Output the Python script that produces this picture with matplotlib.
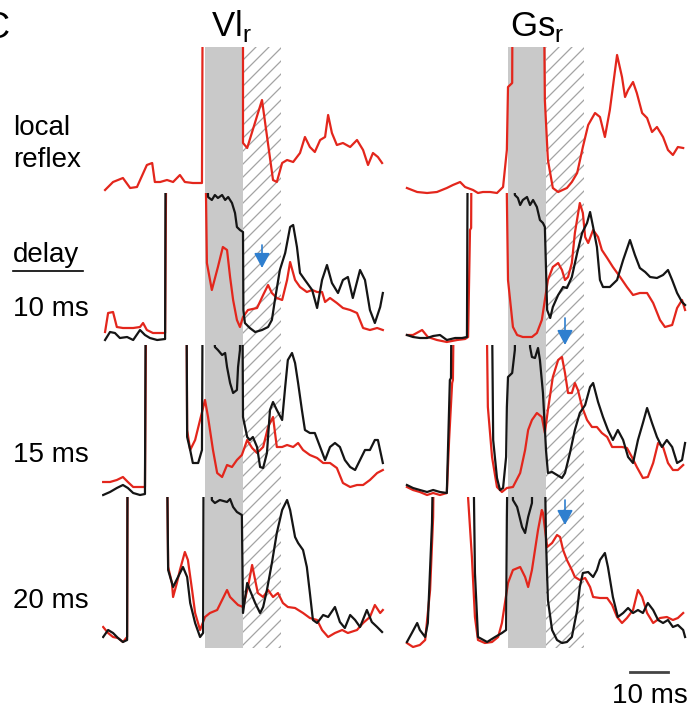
import numpy as np
import matplotlib.pyplot as plt
from matplotlib.patches import Rectangle

plt.rcParams['font.family'] = ['Liberation Sans', 'DejaVu Sans']
plt.rcParams['mathtext.fontset'] = 'custom'
plt.rcParams['mathtext.rm'] = 'Liberation Sans'

SAT = 300  # stimulus artefact, always off scale

# (time from stimulus onset [ms], amplitude above baseline [a.u.])
vl_local = [(-26.3, -5), (-24.2, 3), (-21.6, 7), (-19.7, -3), (-17.9, -2), (-15.3, 20), (-13.9, 22),
            (-13.2, 3), (-11.8, 3), (-10.0, 5), (-8.4, 3), (-6.6, 10), (-5.3, 3), (-3.2, 2), (-0.8, 2),
            (-0.5, SAT), (10.0, SAT), (10.0, 42), (11.1, 37), (15.0, 85), (17.9, 5), (18.9, 3),
            (20.3, 22), (21.6, 25), (23.2, 23), (25.0, 32), (26.3, 48), (27.6, 38), (28.9, 33),
            (30.3, 45), (31.6, 48), (32.4, 70), (33.4, 52), (34.7, 40), (36.3, 42), (38.2, 38),
            (40.0, 45), (41.6, 35), (42.9, 20), (44.2, 32), (45.5, 28), (46.6, 22)]
gs_local = [(-26.6, -3), (-23.9, -7), (-21.3, -8), (-18.7, -7), (-16.1, -3), (-14.5, 0), (-12.6, 3),
            (-11.3, -2), (-9.2, -5), (-7.9, -8), (-6.6, -7), (-4.7, -7), (-2.9, -8), (-1.3, -2),
            (-0.3, 35), (0.0, 98), (1.1, 102), (1.3, SAT), (9.2, SAT), (9.7, 85), (10.5, 25),
            (11.8, -3), (13.2, -7), (15.5, -3), (16.8, 3), (18.2, 12), (19.7, 38), (21.1, 60),
            (22.9, 72), (24.2, 68), (25.5, 48), (26.8, 75), (28.7, 130), (30.0, 108), (30.8, 88),
            (31.6, 95), (32.9, 103), (33.9, 92), (35.3, 72), (36.6, 67), (37.9, 53), (39.2, 58),
            (40.8, 48), (42.1, 35), (43.4, 30), (44.7, 38), (46.1, 37)]

# delay 10 ms
vl_10_red = [(-26.3, 3), (-25.5, 22), (-24.2, 23), (-23.2, 8), (-21.6, 7), (-18.9, 7), (-17.1, 8),
             (-16.3, 12), (-15.3, 5), (-13.7, 2), (-10.5, 2), (-10.0, SAT), (-0.3, SAT), (0.5, 72),
             (1.8, 45), (3.4, 68), (4.7, 88), (5.8, 85), (6.6, 58), (7.4, 35), (8.4, 15), (9.2, 8),
             (10.0, 18), (11.3, 25), (13.7, 27), (15.3, 40), (16.6, 50), (17.6, 42), (18.9, 37),
             (20.3, 35), (21.6, 55), (22.4, 73), (23.7, 55), (25.0, 48), (26.8, 43), (28.2, 45),
             (29.5, 43), (30.8, 43), (31.6, 33), (32.9, 37), (34.7, 32), (36.3, 27), (38.2, 25),
             (40.0, 22), (41.6, 7), (43.4, 5), (45.3, 7), (46.8, 5)]
vl_10_blk = [(-26.3, -5), (-25.0, 3), (-23.7, 2), (-22.4, -3), (-20.5, -2), (-18.9, -5), (-17.1, 5),
             (-15.8, 0), (-14.5, -3), (-12.6, -5), (-10.5, -4), (-10.3, SAT), (-0.3, SAT), (0.8, 138),
             (1.8, 135), (2.6, 140), (3.4, 137), (4.5, 140), (5.3, 135), (6.1, 138), (7.1, 132),
             (7.9, 122), (8.4, 108), (9.2, 105), (10.0, 103), (10.1, 25), (10.5, 12), (11.8, 7),
             (13.2, 3), (15.0, 5), (16.6, 8), (17.6, 15), (18.4, 35), (19.7, 65), (21.1, 82),
             (22.4, 108), (23.2, 110), (24.2, 88), (25.0, 62), (26.3, 55), (28.2, 45), (29.5, 27),
             (30.8, 55), (32.1, 70), (33.4, 52), (35.0, 42), (36.3, 55), (37.6, 58), (38.9, 37),
             (40.8, 65), (42.1, 55), (43.4, 25), (44.7, 12), (46.1, 28), (46.8, 42)]
gs_10_red = [(-26.6, 0), (-25.0, 0), (-22.6, 5), (-21.1, -2), (-18.7, -5), (-16.1, -7), (-13.4, -5),
             (-11.3, -4), (-10.5, -2), (-10.0, 105), (-9.7, 107), (-9.5, SAT), (-0.5, SAT), (-0.3, 138),
             (0.0, 55), (1.3, 8), (2.4, 0), (3.9, -2), (6.3, -2), (7.6, 2), (8.9, 15), (9.7, 35),
             (10.5, 55), (11.8, 68), (13.2, 72), (14.2, 65), (15.0, 55), (15.8, 58), (16.8, 72),
             (17.6, 102), (18.9, 132), (19.7, 122), (20.3, 98), (21.1, 92), (22.4, 105), (23.7, 98),
             (24.7, 85), (26.1, 77), (27.6, 68), (29.5, 58), (31.3, 48), (32.9, 40), (34.7, 42),
             (36.6, 42), (38.2, 32), (40.0, 15), (41.3, 8), (43.2, 10), (44.5, 27), (45.8, 35),
             (46.6, 25)]
gs_10_blk = [(-26.6, 0), (-25.0, -2), (-23.2, -3), (-21.3, -3), (-19.7, -1), (-17.9, 0), (-16.1, -5),
             (-13.9, -3), (-12.1, -3), (-10.8, -2), (-10.5, SAT), (1.6, SAT), (1.8, 140), (2.6, 137),
             (3.2, 130), (3.9, 135), (5.0, 138), (5.8, 130), (6.6, 135), (7.6, 128), (8.4, 115),
             (9.2, 112), (9.7, 108), (10.3, 25), (11.1, 17), (11.8, 28), (13.2, 40), (14.5, 48),
             (15.5, 47), (16.8, 58), (18.2, 82), (19.5, 102), (20.8, 112), (21.6, 123), (22.4, 108),
             (23.4, 88), (24.2, 55), (25.0, 48), (26.8, 48), (28.7, 55), (30.3, 75), (32.1, 95),
             (33.4, 80), (34.7, 67), (36.1, 63), (37.4, 58), (39.2, 57), (40.8, 60), (42.1, 65),
             (43.2, 55), (44.5, 42), (45.8, 33), (46.6, 30)]

# delay 15 ms
vl_15_red = [(-26.8, 8), (-25.0, 8), (-23.2, 10), (-21.6, 13), (-20.3, 8), (-18.9, 3), (-17.1, 3),
             (-15.8, 3), (-15.3, SAT), (-5.0, SAT), (-4.7, 60), (-3.9, 40), (-2.6, 50), (-1.3, 70),
             (0.0, 90), (0.8, 73), (2.1, 40), (3.2, 17), (4.5, 13), (5.8, 25), (7.1, 23), (8.4, 30),
             (9.7, 35), (11.1, 50), (12.4, 42), (13.7, 37), (15.3, 43), (16.6, 63), (17.9, 73),
             (18.9, 43), (20.3, 43), (21.6, 45), (23.2, 43), (24.5, 47), (25.8, 40), (27.6, 35),
             (29.5, 32), (31.1, 27), (32.9, 27), (34.7, 22), (36.3, 7), (38.2, 3), (40.0, 5),
             (41.6, 5), (43.4, 10), (45.3, 17), (46.8, 20)]
vl_15_blk = [(-26.8, -5), (-25.0, -2), (-23.2, 2), (-21.6, 5), (-20.3, 2), (-18.9, -3), (-17.1, -5),
             (-15.8, -4), (-15.5, SAT), (-5.0, SAT), (-4.7, 53), (-3.9, 40), (-3.2, 27), (-1.8, 27),
             (-0.8, 40), (-0.5, SAT), (2.4, SAT), (2.6, 143), (3.4, 140), (4.5, 135), (5.3, 137),
             (5.8, 123), (6.6, 107), (7.4, 97), (8.4, 100), (8.7, 123), (9.2, 140), (9.7, SAT),
             (10.0, 73), (11.1, 53), (11.8, 50), (12.6, 53), (13.7, 43), (14.5, 23), (15.3, 22),
             (16.3, 37), (17.1, 80), (17.9, 88), (18.9, 80), (20.3, 70), (21.1, 103), (21.8, 130),
             (22.9, 137), (23.7, 127), (24.5, 107), (25.5, 80), (26.3, 60), (27.6, 57), (28.9, 57),
             (30.3, 43), (31.6, 30), (32.9, 43), (34.2, 47), (35.5, 43), (36.8, 30), (38.2, 23),
             (39.5, 20), (40.8, 30), (42.1, 40), (43.4, 40), (44.7, 50), (45.5, 50), (46.8, 27)]
gs_15_red = [(-26.6, 3), (-25.0, 0), (-23.2, -2), (-21.3, -5), (-19.7, -3), (-17.9, -5), (-16.1, -3),
             (-15.5, 50), (-14.7, 107), (-14.5, 110), (-13.9, SAT), (-5.8, SAT), (-5.5, 143),
             (-5.3, 83), (-4.2, 33), (-2.9, 3), (-1.6, -2), (-0.3, 2), (1.3, 3), (3.2, 17), (4.5, 40),
             (5.3, 60), (6.3, 70), (7.6, 77), (8.9, 73), (9.7, 57), (10.5, 80), (11.8, 113),
             (13.2, 130), (14.2, 133), (15.0, 117), (15.8, 97), (16.8, 97), (17.6, 107), (18.4, 100),
             (19.5, 83), (20.8, 70), (22.1, 63), (23.4, 63), (24.7, 57), (26.1, 53), (27.4, 43),
             (28.7, 43), (30.0, 43), (31.3, 42), (32.6, 33), (33.9, 23), (35.5, 12), (36.8, 13),
             (38.2, 27), (39.5, 47), (40.8, 43), (42.1, 27), (43.4, 20), (44.7, 20), (46.1, 25)]
gs_15_blk = [(-26.6, 5), (-25.0, 2), (-23.2, 0), (-21.3, -2), (-19.7, 0), (-17.9, -2), (-16.1, -3),
             (-15.3, 110), (-15.0, 112), (-14.7, SAT), (-4.5, SAT), (-3.9, 50), (-2.9, 12), (-2.1, 0),
             (-1.3, 2), (-0.5, 33), (-0.3, 83), (0.0, 113), (1.1, 117), (1.8, 140), (2.4, SAT),
             (5.5, SAT), (5.8, 143), (6.3, 133), (7.1, 132), (7.9, 142), (8.4, 130), (9.2, 97),
             (10.0, 40), (10.5, 17), (11.6, 18), (12.9, 15), (14.2, 12), (15.0, 17), (16.3, 37),
             (17.6, 60), (18.9, 77), (20.3, 85), (21.6, 103), (22.4, 107), (23.7, 88), (25.0, 73),
             (26.3, 60), (27.6, 50), (28.9, 60), (30.3, 50), (31.6, 33), (32.9, 27), (34.2, 50),
             (35.5, 67), (36.6, 82), (37.9, 67), (39.2, 53), (40.5, 43), (41.8, 50), (43.2, 43),
             (44.5, 27), (45.8, 30), (46.6, 47)]

# delay 20 ms
vl_20_red = [(-26.8, 11), (-25.5, 5), (-24.2, 1), (-22.9, 0), (-21.6, -4), (-20.5, 1), (-20.3, SAT),
             (-10.3, SAT), (-9.7, 71), (-8.7, 55), (-8.4, 41), (-7.4, 55), (-6.6, 68), (-5.3, 86),
             (-4.5, 78), (-3.4, 48), (-2.6, 25), (-1.3, 8), (0.0, 21), (1.3, 25), (3.2, 28), (4.5, 38),
             (5.8, 48), (6.6, 41), (7.9, 36), (8.7, 33), (10.0, 31), (11.3, 51), (12.4, 73),
             (13.2, 58), (13.9, 45), (15.3, 41), (16.6, 48), (17.9, 41), (19.2, 45), (20.5, 35),
             (21.8, 31), (23.7, 30), (25.8, 25), (27.6, 20), (29.5, 18), (30.8, 8), (32.4, 1),
             (34.2, 5), (36.1, 8), (37.6, 5), (40.0, 8), (41.6, 15), (43.4, 21), (44.7, 33),
             (46.1, 25), (46.8, 28)]
vl_20_blk = [(-26.8, 1), (-25.5, 8), (-24.2, 5), (-22.9, 0), (-21.6, -4), (-20.5, -2), (-20.3, SAT),
             (-10.3, SAT), (-9.7, 68), (-8.4, 51), (-7.1, 61), (-5.8, 71), (-4.7, 61), (-3.9, 35),
             (-2.6, 15), (-1.3, 1), (-0.5, 5), (-0.3, SAT), (1.6, SAT), (1.8, 138), (2.6, 135),
             (3.9, 138), (5.8, 136), (6.6, 139), (7.4, 131), (8.4, 126), (9.7, 123), (10.0, 25),
             (11.1, 55), (11.8, 48), (13.2, 35), (14.5, 25), (15.3, 31), (16.3, 48), (17.6, 75),
             (18.9, 105), (20.3, 128), (21.6, 138), (22.4, 128), (23.7, 101), (24.5, 95), (25.8, 88),
             (26.8, 71), (27.6, 45), (28.4, 18), (29.5, 15), (31.1, 23), (32.4, 21), (34.2, 31),
             (35.5, 16), (36.8, 10), (38.2, 23), (39.5, 18), (40.8, 11), (42.6, 28), (43.9, 16),
             (45.3, 11), (46.6, 6)]
gs_20_red = [(-26.6, -5), (-25.0, -9), (-23.2, -7), (-21.8, -2), (-20.5, 48), (-19.7, 121),
             (-19.2, SAT), (-10.8, SAT), (-10.5, 140), (-9.5, 81), (-8.7, 21), (-7.9, -2), (-6.1, -5),
             (-4.2, -4), (-2.6, 1), (-1.6, 15), (-0.8, 35), (0.0, 55), (1.3, 68), (3.2, 71), (4.5, 61),
             (5.3, 51), (6.3, 68), (7.1, 88), (7.9, 108), (8.9, 128), (9.2, 125), (10.3, 91),
             (11.6, 95), (12.9, 103), (13.7, 101), (14.5, 88), (15.5, 78), (16.8, 68), (17.6, 61),
             (18.9, 58), (20.3, 60), (21.6, 51), (22.4, 41), (24.2, 40), (26.1, 40), (27.4, 33),
             (28.7, 21), (30.0, 15), (31.3, 20), (32.9, 28), (34.2, 48), (35.3, 41), (36.6, 25),
             (38.2, 15), (40.0, 20), (41.8, 21), (43.4, 18), (44.7, 20), (46.1, 25)]
gs_20_blk = [(-26.6, -4), (-25.3, 5), (-23.9, 15), (-23.2, 8), (-21.8, 1), (-21.1, 15), (-20.0, 115),
             (-19.2, SAT), (-9.5, SAT), (-8.7, 65), (-7.9, 1), (-5.5, -4), (-3.4, 1), (-1.6, 5),
             (-0.5, 8), (-0.3, 121), (0.3, SAT), (1.1, SAT), (1.3, 138), (2.4, 131), (3.7, 111),
             (4.5, 105), (5.3, 121), (6.3, 135), (6.8, SAT), (9.2, SAT), (10.0, 98), (10.5, 38),
             (11.6, 8), (12.9, -2), (14.2, -5), (15.5, -4), (16.8, 1), (18.2, 28), (18.9, 51),
             (19.7, 65), (21.1, 66), (22.4, 61), (23.4, 68), (24.2, 78), (25.5, 85), (26.3, 71),
             (27.6, 41), (28.9, 21), (30.3, 25), (31.6, 30), (32.9, 25), (34.2, 28), (35.5, 25),
             (36.8, 35), (38.2, 28), (39.5, 18), (40.8, 15), (42.1, 18), (43.4, 11), (44.7, 13),
             (46.1, 8), (46.6, 1)]

muscles = [r'Vl$_\mathrm{r}$', r'Gs$_\mathrm{r}$']
row_labels = ['10 ms', '15 ms', '20 ms']
# blue arrows: (row, column, time, amplitude start, amplitude end)
arrows = [(1, 0, 15.0, 90, 67), (1, 1, 15.0, 17, -10), (3, 1, 15.0, 138, 113)]

# ---- layout (pixels) ----
W, H = 695, 719
PX_MS = 3.8
T0, T1 = -27.0, 48.0
onset_px = [205, 508]
row_top = [47, 193, 345, 497]
row_base = [185, 335, 490, 638]
band_bottom = 648
panel_h = 175
RED = '#e3261c'
BLK = '#151515'

fig = plt.figure(figsize=(W / 100, H / 100), dpi=100)
bg = fig.add_axes([0, 0, 1, 1])
bg.set_xlim(0, W)
bg.set_ylim(H, 0)
bg.axis('off')

# stimulus (grey) and post-stimulus (hatched) windows
for x0 in onset_px:
    bg.add_patch(Rectangle((x0, row_top[0]), 10 * PX_MS, band_bottom - row_top[0],
                           facecolor='#c9c9c9', edgecolor='none', zorder=0))
    hx = x0 + 10 * PX_MS
    hw = 10 * PX_MS
    clip = Rectangle((hx, row_top[0]), hw, band_bottom - row_top[0], facecolor='none',
                     edgecolor='none')
    bg.add_patch(clip)
    for y in np.arange(row_top[0], band_bottom + hw + 13, 13):
        ln, = bg.plot([hx, hx + hw], [y, y - hw], color='#a3a3a3', lw=0.9, zorder=1)
        ln.set_clip_path(clip)

traces = [[(vl_local, None), (gs_local, None)],
          [(vl_10_red, vl_10_blk), (gs_10_red, gs_10_blk)],
          [(vl_15_red, vl_15_blk), (gs_15_red, gs_15_blk)],
          [(vl_20_red, vl_20_blk), (gs_20_red, gs_20_blk)]]

axes = {}
for r in range(4):
    a_top = row_base[r] - row_top[r]
    for c in range(2):
        left = onset_px[c] + T0 * PX_MS
        wpx = (T1 - T0) * PX_MS
        ax = fig.add_axes([left / W, 1 - (row_top[r] + panel_h) / H, wpx / W, panel_h / H])
        ax.set_xlim(T0, T1)
        ax.set_ylim(a_top - panel_h, a_top)
        ax.axis('off')
        ax.patch.set_alpha(0)
        red, blk = traces[r][c]
        ax.plot([p[0] for p in red], [p[1] for p in red], color=RED, lw=1.6, zorder=2)
        if blk is not None:
            ax.plot([p[0] for p in blk], [p[1] for p in blk], color=BLK, lw=1.6, zorder=3)
        axes[(r, c)] = ax

for r, c, t, a0, a1 in arrows:
    axes[(r, c)].annotate('', xy=(t, a1), xytext=(t, a0), annotation_clip=False,
                          arrowprops=dict(arrowstyle='-|>,head_length=0.75,head_width=0.4',
                                          color='#2f7fcf', lw=1.2, mutation_scale=12,
                                          clip_on=False, shrinkA=0, shrinkB=0))

# text
bg.text(9, 38, 'C', fontsize=26, ha='right', va='baseline')
bg.text(231, 36, muscles[0], fontsize=25, ha='center', va='baseline')
bg.text(537, 36, muscles[1], fontsize=25, ha='center', va='baseline')
bg.text(13, 135, 'local', fontsize=20, va='baseline')
bg.text(13, 167, 'reflex', fontsize=20, va='baseline')
bg.text(13, 262, 'delay', fontsize=20, va='baseline')
bg.plot([13, 83], [271, 271], color='black', lw=1.2)
for lab, y in zip(row_labels, [316, 462, 608]):
    bg.text(13, y, lab, fontsize=20, va='baseline')

# 10 ms scale bar
bar_end = 668
bg.plot([bar_end - 10 * PX_MS, bar_end], [672, 672], color='#444444', lw=2)
bg.text(650, 703, '10 ms', fontsize=20, ha='center', va='baseline')

fig.savefig('out.png', dpi=100)
